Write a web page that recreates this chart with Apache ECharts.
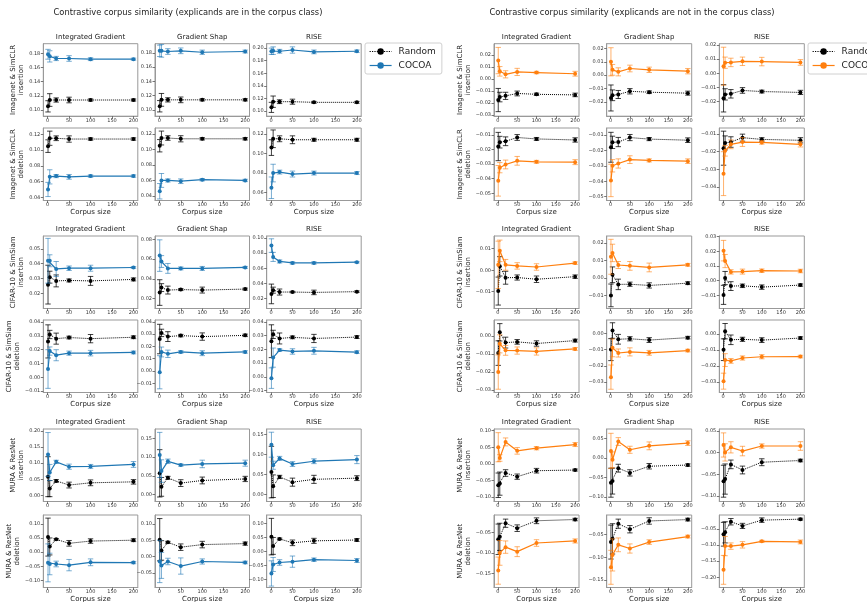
<!DOCTYPE html>
<html><head><meta charset="utf-8">
<script src="https://cdn.jsdelivr.net/npm/echarts@6/dist/echarts.min.js"></script>
<style>html,body{margin:0;padding:0;background:#fff}#chart{width:867px;height:602px}</style>
</head><body><div id="chart"></div>
<script>
// ---------------- DATA ----------------
const corpusSizes = [1, 5, 20, 50, 100, 200];
const xTicks = [0, 50, 100, 150, 200];
const methods = ['Integrated Gradient', 'Gradient Shap', 'RISE'];
const rowNames = ['Imagenet & SimCLR\ninsertion', 'Imagenet & SimCLR\ndeletion',
  'CIFAR-10 & SimSiam\ninsertion', 'CIFAR-10 & SimSiam\ndeletion',
  'MURA & ResNet\ninsertion', 'MURA & ResNet\ndeletion'];
const panelTitles = ['Contrastive corpus similarity (explicands are in the corpus class)',
  'Contrastive corpus similarity (explicands are not in the corpus class)'];

// Panel A: explicands in the corpus class. rows x [IG, GS, RISE] x corpusSizes
const A_randomMean = [
  [[0.105,0.114,0.114,0.114,0.114,0.114],[0.105,0.114,0.114,0.114,0.114,0.114],[0.106,0.115,0.115,0.115,0.114,0.114]],
  [[0.105,0.115,0.115,0.114,0.114,0.114],[0.105,0.115,0.115,0.114,0.114,0.114],[0.106,0.115,0.115,0.114,0.114,0.114]],
  [[0.026,0.031,0.0285,0.0288,0.0285,0.0295],[0.026,0.031,0.0285,0.029,0.0285,0.0295],[0.026,0.031,0.0285,0.0285,0.028,0.029]],
  [[0.026,0.031,0.028,0.0288,0.028,0.029],[0.026,0.031,0.028,0.0288,0.028,0.029],[0.026,0.031,0.028,0.0288,0.028,0.029]],
  [[0.058,0.021,0.045,0.032,0.039,0.042],[0.057,0.021,0.045,0.031,0.038,0.042],[0.056,0.021,0.044,0.031,0.038,0.041]],
  [[0.053,0.020,0.045,0.031,0.039,0.042],[0.052,0.019,0.044,0.029,0.037,0.040],[0.053,0.020,0.045,0.031,0.038,0.041]]
];
const A_randomErr = [
  [[0.008,0.009,0.003,0.004,0.0015,0.0015],[0.008,0.009,0.003,0.004,0.0015,0.0015],[0.008,0.009,0.003,0.004,0.0015,0.0015]],
  [[0.008,0.009,0.003,0.004,0.0015,0.0015],[0.008,0.009,0.003,0.004,0.0015,0.0015],[0.008,0.009,0.003,0.004,0.0015,0.0015]],
  [[0.013,0.004,0.004,0.001,0.003,0.001],[0.013,0.004,0.004,0.001,0.003,0.001],[0.013,0.004,0.004,0.001,0.003,0.001]],
  [[0.012,0.003,0.004,0.001,0.003,0.001],[0.012,0.003,0.004,0.001,0.003,0.001],[0.012,0.003,0.004,0.001,0.003,0.001]],
  [[0.062,0.025,0.004,0.009,0.009,0.007],[0.063,0.025,0.004,0.009,0.009,0.007],[0.064,0.028,0.004,0.010,0.010,0.006]],
  [[0.067,0.030,0.003,0.010,0.008,0.005],[0.065,0.030,0.003,0.010,0.010,0.005],[0.065,0.030,0.003,0.010,0.009,0.005]]
];
const A_cocoaMean = [
  [[0.179,0.176,0.173,0.173,0.172,0.172],[0.183,0.183,0.182,0.183,0.181,0.182],[0.195,0.196,0.195,0.197,0.194,0.195]],
  [[0.050,0.066,0.067,0.066,0.067,0.067],[0.046,0.060,0.060,0.059,0.061,0.060],[0.065,0.080,0.081,0.079,0.080,0.080]],
  [[0.042,0.042,0.0365,0.037,0.037,0.0375],[0.0635,0.0575,0.0505,0.0505,0.0505,0.0515],[0.090,0.075,0.069,0.067,0.067,0.068]],
  [[0.006,0.019,0.016,0.0175,0.0175,0.018],[-0.001,0.0155,0.014,0.0155,0.0145,0.0155],[-0.001,0.014,0.0195,0.0185,0.019,0.018]],
  [[0.127,0.071,0.104,0.089,0.090,0.096],[0.106,0.063,0.089,0.079,0.082,0.084],[0.124,0.073,0.090,0.076,0.083,0.087]],
  [[-0.038,-0.042,-0.042,-0.046,-0.036,-0.037],[-0.015,-0.027,-0.015,-0.029,-0.015,-0.018],[-0.078,-0.046,-0.039,-0.036,-0.029,-0.032]]
];
const A_cocoaErr = [
  [[0.007,0.008,0.003,0.004,0.002,0.0015],[0.008,0.009,0.004,0.004,0.003,0.002],[0.005,0.006,0.003,0.005,0.003,0.002]],
  [[0.009,0.009,0.002,0.003,0.0015,0.0015],[0.010,0.009,0.002,0.003,0.0015,0.0015],[0.011,0.009,0.002,0.003,0.002,0.0015]],
  [[0.015,0.004,0.005,0.0015,0.002,0.0006],[0.016,0.006,0.005,0.0015,0.002,0.001],[0.009,0.006,0.002,0.0015,0.0015,0.001]],
  [[0.014,0.003,0.004,0.0015,0.002,0.001],[0.0135,0.004,0.003,0.001,0.002,0.001],[0.0075,0.007,0.001,0.002,0.0025,0.001]],
  [[0.068,0.025,0.005,0.008,0.006,0.009],[0.060,0.030,0.006,0.003,0.010,0.008],[0.031,0.010,0.005,0.006,0.006,0.010]],
  [[0.067,0.038,0.010,0.020,0.012,0.004],[0.065,0.040,0.010,0.025,0.008,0.004],[0.045,0.025,0.010,0.020,0.006,0.007]]
];
// y tick specs [first, last, step] and axis limits [min, max]
const A_yTicks = [
  [[0.10,0.18,0.02],[0.10,0.18,0.02],[0.10,0.20,0.02]],
  [[0.04,0.12,0.02],[0.04,0.12,0.02],[0.06,0.12,0.02]],
  [[0.02,0.05,0.01],[0.02,0.08,0.02],[0.02,0.10,0.02]],
  [[-0.01,0.04,0.01],[-0.01,0.04,0.01],[-0.01,0.04,0.01]],
  [[0.00,0.20,0.05],[0.00,0.15,0.05],[0.00,0.15,0.05]],
  [[-0.10,0.10,0.05],[-0.05,0.10,0.05],[-0.10,0.10,0.05]]
];
const A_yRange = [
  [[0.091,0.194],[0.091,0.193],[0.092,0.207]],
  [[0.036,0.128],[0.034,0.128],[0.052,0.126]],
  [[0.010,0.0586],[0.0098,0.0834],[0.0067,0.1027]],
  [[-0.011,0.0415],[-0.0175,0.0415],[-0.0115,0.0415]],
  [[-0.019,0.206],[-0.018,0.175],[-0.017,0.163]],
  [[-0.125,0.131],[-0.095,0.128],[-0.128,0.13]]
];

// Panel B: explicands not in the corpus class
const B_randomMean = [
  [[-0.0175,-0.015,-0.014,-0.012,-0.0127,-0.0132],[-0.017,-0.015,-0.0144,-0.012,-0.0127,-0.0134],[-0.0178,-0.015,-0.0146,-0.0122,-0.013,-0.0136]],
  [[-0.018,-0.015,-0.0144,-0.0118,-0.0128,-0.0135],[-0.018,-0.0148,-0.0146,-0.0117,-0.0127,-0.0134],[-0.018,-0.015,-0.0145,-0.012,-0.013,-0.0135]],
  [[-0.0097,0.0018,-0.0035,-0.0034,-0.0042,-0.003],[-0.010,0.0018,-0.0037,-0.0036,-0.0043,-0.003],[-0.0097,0.0018,-0.0037,-0.0035,-0.0044,-0.003]],
  [[-0.0095,0.002,-0.0037,-0.0033,-0.0042,-0.0026],[-0.010,0.0018,-0.0036,-0.0033,-0.0041,-0.0026],[-0.0098,0.0018,-0.0036,-0.0033,-0.0038,-0.0025]],
  [[-0.065,-0.060,-0.028,-0.039,-0.021,-0.019],[-0.063,-0.059,-0.026,-0.038,-0.021,-0.018],[-0.066,-0.061,-0.027,-0.040,-0.022,-0.018]],
  [[-0.067,-0.061,-0.028,-0.040,-0.022,-0.019],[-0.067,-0.060,-0.027,-0.039,-0.021,-0.018],[-0.066,-0.060,-0.027,-0.040,-0.022,-0.019]]
];
const B_randomErr = [
  [[0.0097,0.004,0.003,0.002,0.001,0.0015],[0.0097,0.004,0.003,0.002,0.001,0.0015],[0.0097,0.004,0.003,0.002,0.001,0.0015]],
  [[0.0097,0.004,0.003,0.002,0.001,0.0015],[0.0097,0.004,0.003,0.002,0.001,0.0015],[0.0097,0.004,0.003,0.002,0.001,0.0015]],
  [[0.0065,0.0045,0.003,0.0012,0.0015,0.0008],[0.0065,0.0045,0.003,0.0012,0.0015,0.0008],[0.0065,0.0045,0.003,0.0012,0.0015,0.0008]],
  [[0.0068,0.0048,0.003,0.0013,0.0015,0.0008],[0.0068,0.0048,0.003,0.0013,0.0015,0.0008],[0.0068,0.0048,0.003,0.0013,0.0015,0.0008]],
  [[0.037,0.035,0.010,0.008,0.007,0.003],[0.037,0.033,0.010,0.008,0.007,0.003],[0.037,0.035,0.010,0.009,0.008,0.003]],
  [[0.037,0.033,0.010,0.008,0.007,0.003],[0.037,0.033,0.010,0.008,0.007,0.003],[0.037,0.033,0.010,0.008,0.007,0.003]]
];
const B_cocoaMean = [
  [[0.0155,0.0065,0.004,0.006,0.0055,0.0045],[0.010,0.004,0.0025,0.005,0.004,0.003],[0.005,0.0075,0.0077,0.0085,0.0083,0.0077]],
  [[-0.0415,-0.0325,-0.0303,-0.0278,-0.0285,-0.0287],[-0.0395,-0.030,-0.0285,-0.026,-0.0265,-0.027],[-0.0325,-0.0195,-0.0158,-0.0145,-0.0147,-0.0158]],
  [[0.0025,0.009,0.0025,0.002,0.0015,0.0033],[0.0121,0.0143,0.0074,0.0069,0.006,0.0075],[0.0205,0.0134,0.006,0.0062,0.0068,0.0066]],
  [[-0.020,-0.0044,-0.008,-0.0081,-0.0086,-0.0072],[-0.027,-0.0089,-0.0121,-0.0114,-0.012,-0.0106],[-0.0295,-0.0163,-0.0168,-0.015,-0.0142,-0.0141]],
  [[0.050,0.0175,0.066,0.039,0.047,0.058],[0.018,-0.0045,0.042,0.021,0.031,0.038],[0.018,0.0008,0.0125,0.0039,0.0156,0.0156]],
  [[-0.143,-0.100,-0.086,-0.097,-0.076,-0.071],[-0.122,-0.095,-0.073,-0.081,-0.067,-0.055],[-0.177,-0.103,-0.103,-0.099,-0.088,-0.090]]
];
const B_cocoaErr = [
  [[0.011,0.004,0.003,0.003,0.001,0.002],[0.0105,0.004,0.003,0.0025,0.002,0.002],[0.0135,0.004,0.003,0.003,0.003,0.002]],
  [[0.0105,0.0035,0.003,0.003,0.001,0.0017],[0.0105,0.004,0.003,0.0025,0.001,0.0015],[0.0125,0.003,0.0025,0.0025,0.001,0.0015]],
  [[0.011,0.005,0.0025,0.0015,0.0015,0.0006],[0.010,0.005,0.002,0.0025,0.0025,0.0008],[0.007,0.0045,0.0015,0.0017,0.0012,0.0012]],
  [[0.0095,0.005,0.0027,0.002,0.002,0.0008],[0.0075,0.0055,0.0025,0.0025,0.0015,0.0008],[0.005,0.004,0.0015,0.0013,0.0013,0.0008]],
  [[0.044,0.010,0.012,0.010,0.005,0.006],[0.045,0.020,0.010,0.009,0.010,0.006],[0.028,0.020,0.013,0.011,0.005,0.010]],
  [[0.033,0.030,0.015,0.012,0.008,0.005],[0.037,0.035,0.015,0.010,0.005,0.003],[0.045,0.030,0.010,0.010,0.003,0.006]]
];
const B_yTicks = [
  [[-0.03,0.02,0.01],[-0.02,0.02,0.01],[-0.02,0.02,0.01]],
  [[-0.05,-0.01,0.01],[-0.05,-0.01,0.01],[-0.04,-0.01,0.01]],
  [[-0.01,0.01,0.01],[-0.01,0.02,0.01],[-0.01,0.03,0.01]],
  [[-0.03,0.00,0.01],[-0.03,0.00,0.01],[-0.03,0.00,0.01]],
  [[-0.10,0.10,0.05],[-0.10,0.05,0.05],[-0.10,0.05,0.05]],
  [[-0.15,-0.05,0.05],[-0.15,-0.05,0.05],[-0.20,-0.05,0.05]]
];
const B_yRange = [
  [[-0.031,0.0296],[-0.0306,0.0235],[-0.0305,0.021]],
  [[-0.055,-0.0053],[-0.0525,-0.0055],[-0.0478,-0.0065]],
  [[-0.0178,0.0159],[-0.0175,0.024],[-0.019,0.0305]],
  [[-0.0313,0.0088],[-0.0365,0.0083],[-0.0366,0.0088]],
  [[-0.114,0.105],[-0.111,0.074],[-0.113,0.055]],
  [[-0.184,-0.008],[-0.166,-0.008],[-0.232,-0.006]]
];

// ---------------- LAYOUT / STYLE ----------------
const FONT = 'DejaVu Sans';
const rowTop = [43.7, 128, 236, 320, 429, 515];
const rowH = 72.5;
const panels = [
  {title: panelTitles[0], color: '#1f77b4', rm: A_randomMean, re: A_randomErr, cm: A_cocoaMean, ce: A_cocoaErr,
   yt: A_yTicks, yr: A_yRange, colLeft: [43.3, 155, 266.7], colW: 94.5, legendLeft: 365, titleX: 188, nameGap: 14},
  {title: panelTitles[1], color: '#ff7f0e', rm: B_randomMean, re: B_randomErr, cm: B_cocoaMean, ce: B_cocoaErr,
   yt: B_yTicks, yr: B_yRange, colLeft: [494, 606.7, 719.3], colW: 85, legendLeft: 808, titleX: 632, nameGap: 21}
];

function ticksFrom(spec) {
  const out = [];
  const n = Math.round((spec[1] - spec[0]) / spec[2]);
  for (let i = 0; i <= n; i++) out.push(Math.round((spec[0] + i * spec[2]) * 1e6) / 1e6);
  return out;
}
function fmtY(v) {
  if (Math.abs(v) < 1e-9) return '0.00';
  return (v < 0 ? '\u2212' : '') + Math.abs(v).toFixed(2);
}
function makeErr(color, opacity) {
  return function (params, api) {
    const x = api.value(0), y = api.value(1), e = api.value(2);
    const p1 = api.coord([x, y + e]), p2 = api.coord([x, y - e]);
    const h = 2.7;
    const st = {stroke: color, lineWidth: 1, opacity: opacity, fill: null};
    return {type: 'group', children: [
      {type: 'line', shape: {x1: p1[0], y1: p1[1], x2: p2[0], y2: p2[1]}, style: st},
      {type: 'line', shape: {x1: p1[0] - h, y1: p1[1], x2: p1[0] + h, y2: p1[1]}, style: st},
      {type: 'line', shape: {x1: p2[0] - h, y1: p2[1], x2: p2[0] + h, y2: p2[1]}, style: st}
    ]};
  };
}

const grids = [], xAxes = [], yAxes = [], series = [], titles = [];
panels.forEach((P) => {
  titles.push({text: P.title, left: P.titleX, top: 9, textAlign: 'center', padding: 0,
    textStyle: {fontFamily: FONT, fontSize: 8.3, fontWeight: 'normal', color: '#222'}});
  for (let r = 0; r < 6; r++) {
    for (let c = 0; c < 3; c++) {
      const gi = grids.length;
      grids.push({left: P.colLeft[c], top: rowTop[r], width: P.colW, height: rowH,
        show: true, borderColor: '#999', borderWidth: 1, backgroundColor: 'transparent',
        containLabel: false, outerBoundsMode: 'none'});
      if (r % 2 === 0) {
        titles.push({text: methods[c], left: P.colLeft[c] + P.colW / 2, top: rowTop[r] - 10, textAlign: 'center', padding: 0,
          textStyle: {fontFamily: FONT, fontSize: 7, fontWeight: 'normal', color: '#222'}});
      }
      xAxes.push({gridIndex: gi, type: 'value', min: -10, max: 210,
        axisLine: {show: true, onZero: false, lineStyle: {color: '#999', width: 1}},
        splitLine: {show: false},
        axisTick: {show: true, customValues: xTicks, length: 2.5, lineStyle: {color: '#555', width: 0.8}},
        axisLabel: {customValues: xTicks, fontFamily: FONT, fontSize: 5, color: '#333', margin: 2},
        name: (r % 2 === 1) ? 'Corpus size' : '', nameLocation: 'middle', nameGap: 8.5,
        nameTextStyle: {fontFamily: FONT, fontSize: 7, color: '#222'}});
      const yt = ticksFrom(P.yt[r][c]);
      yAxes.push({gridIndex: gi, type: 'value', min: P.yr[r][c][0], max: P.yr[r][c][1],
        axisLine: {show: true, onZero: false, lineStyle: {color: '#999', width: 1}},
        splitLine: {show: false},
        axisTick: {show: true, customValues: yt, length: 2.5, lineStyle: {color: '#555', width: 0.8}},
        axisLabel: {customValues: yt, formatter: fmtY, fontFamily: FONT, fontSize: 5, color: '#333', margin: 3},
        name: c === 0 ? rowNames[r] : '', nameLocation: 'middle', nameRotate: 90, nameGap: P.nameGap,
        nameTextStyle: {fontFamily: FONT, fontSize: 7, color: '#222', lineHeight: 8}});
      const rnd = corpusSizes.map((x, i) => [x, P.rm[r][c][i], P.re[r][c][i]]);
      const coc = corpusSizes.map((x, i) => [x, P.cm[r][c][i], P.ce[r][c][i]]);
      series.push({type: 'custom', name: 'Random err', xAxisIndex: gi, yAxisIndex: gi, clip: true,
        renderItem: makeErr('#000', 0.75), data: rnd, encode: {x: 0, y: 1}, z: 2, silent: true});
      series.push({type: 'line', name: 'Random', xAxisIndex: gi, yAxisIndex: gi, data: rnd.map(d => [d[0], d[1]]),
        symbol: 'circle', symbolSize: 4, showSymbol: true, clip: true,
        itemStyle: {color: '#000'}, lineStyle: {color: '#000', width: 1, type: 'dotted'}, z: 3});
      series.push({type: 'custom', name: 'COCOA err', xAxisIndex: gi, yAxisIndex: gi, clip: true,
        renderItem: makeErr(P.color, 0.6), data: coc, encode: {x: 0, y: 1}, z: 4, silent: true});
      series.push({type: 'line', name: 'COCOA', xAxisIndex: gi, yAxisIndex: gi, data: coc.map(d => [d[0], d[1]]),
        symbol: 'circle', symbolSize: 4, showSymbol: true, clip: true,
        itemStyle: {color: P.color}, lineStyle: {color: P.color, width: 1.2}, z: 5});
    }
  }
});

const legends = panels.map(P => ({
  left: P.legendLeft, top: 43, orient: 'vertical', itemGap: 5, itemWidth: 22, itemHeight: 8,
  padding: [4, 6, 4, 4], borderColor: '#d0d0d0', borderWidth: 1, borderRadius: 2, backgroundColor: '#fff',
  selectedMode: false,
  textStyle: {fontFamily: FONT, fontSize: 9, color: '#222', padding: [0, 0, 0, 2]},
  data: [
    {name: 'Random', itemStyle: {color: '#000'}, lineStyle: {color: '#000', type: 'dotted', width: 1.2}},
    {name: 'COCOA', itemStyle: {color: P.color}, lineStyle: {color: P.color, width: 1.2}}
  ]
}));

const chart = echarts.init(document.getElementById('chart'), null, {renderer: 'canvas'});
chart.setOption({
  animation: false,
  backgroundColor: '#fff',
  textStyle: {fontFamily: FONT},
  title: titles,
  legend: legends,
  grid: grids,
  xAxis: xAxes,
  yAxis: yAxes,
  series: series
});
</script></body></html>
